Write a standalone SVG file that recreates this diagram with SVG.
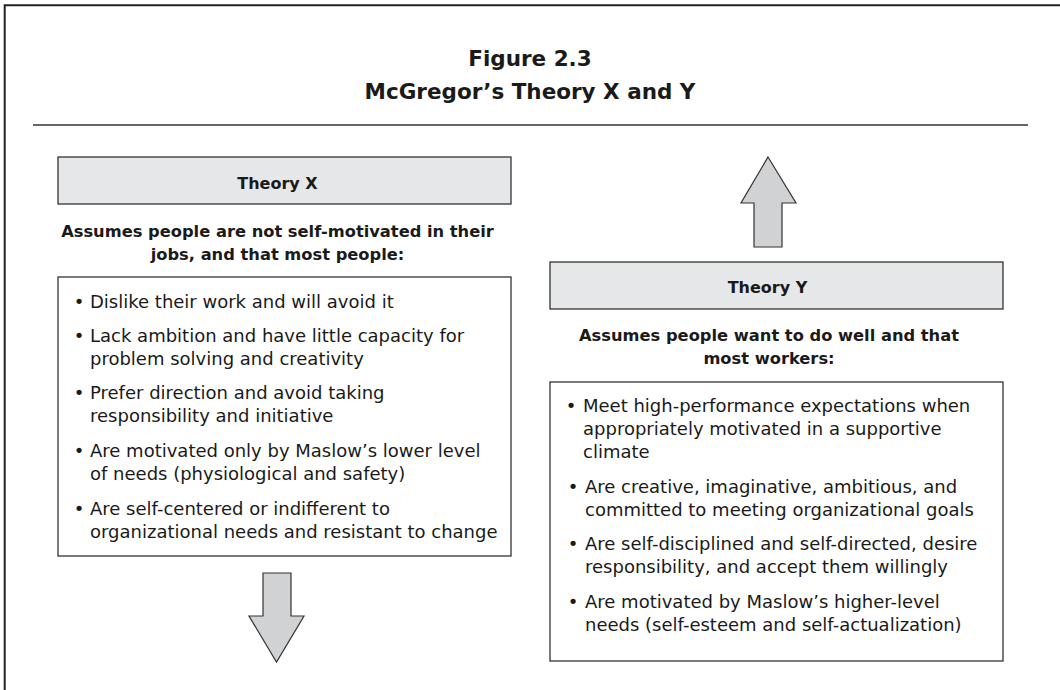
<svg xmlns="http://www.w3.org/2000/svg" width="1060" height="690" viewBox="0 0 1060 690">
<style>
.frame{fill:none;stroke:#222;stroke-width:2}
.rule{stroke:#333;stroke-width:1.5}
.hdr{fill:#e6e7e8;stroke:#333;stroke-width:1.3}
.box{fill:#fff;stroke:#333;stroke-width:1.3}
.arrow{fill:#d1d2d4;stroke:#333;stroke-width:1.2;stroke-linejoin:miter}
text{font-family:"DejaVu Sans","Liberation Sans",sans-serif;fill:#1a1a1a}
.title{font-size:21.5px;font-weight:bold;text-anchor:middle}
.htxt{font-size:16px;font-weight:bold;text-anchor:middle}
.head{font-size:16.3px;font-weight:bold;text-anchor:middle}
.body{font-size:18px}
.bul{font-size:18px;text-anchor:middle}
</style>
<rect width="1060" height="690" fill="#fff"/>
<path class="frame" d="M4.7,690 V5.3 H1060"/>
<g id="title">
<text class="title" x="530" y="66">Figure 2.3</text>
<text class="title" x="530" y="99">McGregor’s Theory X and Y</text>
<line class="rule" x1="33" y1="125" x2="1028" y2="125"/>
</g>
<g id="theory-x">
<rect class="hdr" x="58" y="157" width="453" height="47"/>
<text class="htxt" x="277.5" y="189">Theory X</text>
</g>
<g id="theory-x-assumption">
<text class="head" x="277.5" y="237">Assumes people are not self-motivated in their</text>
<text class="head" x="277.5" y="260">jobs, and that most people:</text>
</g>
<g id="theory-x-list">
<rect class="box" x="58" y="277" width="453" height="279"/>
<text class="bul" x="79" y="308">•</text><text class="body" x="90" y="308">Dislike their work and will avoid it</text>
<text class="bul" x="79" y="342">•</text><text class="body" x="90" y="342">Lack ambition and have little capacity for</text>
<text class="body" x="90" y="365">problem solving and creativity</text>
<text class="bul" x="79" y="399">•</text><text class="body" x="90" y="399">Prefer direction and avoid taking</text>
<text class="body" x="90" y="422">responsibility and initiative</text>
<text class="bul" x="79" y="457">•</text><text class="body" x="90" y="457">Are motivated only by Maslow’s lower level</text>
<text class="body" x="90" y="480">of needs (physiological and safety)</text>
<text class="bul" x="79" y="515">•</text><text class="body" x="90" y="515">Are self-centered or indifferent to</text>
<text class="body" x="90" y="538">organizational needs and resistant to change</text>
</g>
<g id="theory-y">
<rect class="hdr" x="550" y="262" width="453" height="47"/>
<text class="htxt" x="767.5" y="293">Theory Y</text>
</g>
<g id="theory-y-assumption">
<text class="head" x="769" y="341">Assumes people want to do well and that</text>
<text class="head" x="769" y="364">most workers:</text>
</g>
<g id="theory-y-list">
<rect class="box" x="550" y="382" width="453" height="279"/>
<text class="bul" x="571" y="412">•</text><text class="body" x="583" y="412">Meet high-performance expectations when</text>
<text class="body" x="583" y="435">appropriately motivated in a supportive</text>
<text class="body" x="583" y="458">climate</text>
<text class="bul" x="573" y="493">•</text><text class="body" x="585" y="493">Are creative, imaginative, ambitious, and</text>
<text class="body" x="585" y="516">committed to meeting organizational goals</text>
<text class="bul" x="573" y="550">•</text><text class="body" x="585" y="550">Are self-disciplined and self-directed, desire</text>
<text class="body" x="585" y="573">responsibility, and accept them willingly</text>
<text class="bul" x="573" y="608">•</text><text class="body" x="585" y="608">Are motivated by Maslow’s higher-level</text>
<text class="body" x="585" y="631">needs (self-esteem and self-actualization)</text>
</g>
<g id="connectors">
<path class="arrow" d="M768,157 L796,203 L782,203 L782,247 L754,247 L754,203 L741,203 Z"/>
<path class="arrow" d="M263,573 L291,573 L291,616 L304,616 L276.5,662 L249,616 L263,616 Z"/>
</g>
</svg>
